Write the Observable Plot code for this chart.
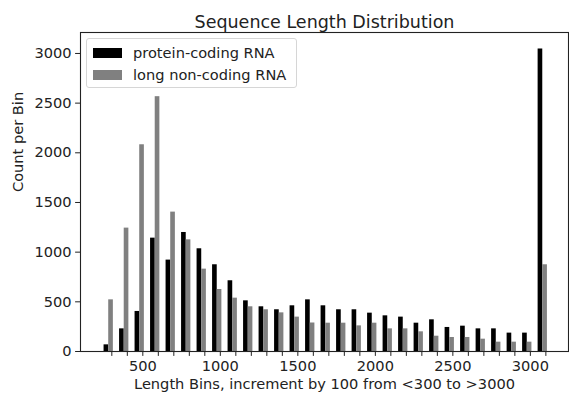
<!DOCTYPE html>
<html>
<head>
<meta charset="utf-8">
<script src="https://cdn.jsdelivr.net/npm/d3@7"></script>
<script src="https://cdn.jsdelivr.net/npm/@observablehq/plot@0.6"></script>
<style>
  html, body { margin: 0; padding: 0; background: #fff; }
  #wrap { position: relative; width: 569px; height: 396px; font-family: "DejaVu Sans", sans-serif; }
  #legend {
    position: absolute; left: 86px; top: 38px; width: 211px; height: 50px;
    border: 1px solid #d6d6d6; border-radius: 3px; background: rgba(255,255,255,0.8);
    font-size: 14.6px; color: #222; box-sizing: border-box;
  }
  .row { position: absolute; left: 6px; display: flex; align-items: center; }
  .sw { width: 29px; height: 10px; margin-right: 11px; }
</style>
</head>
<body>
<div id="wrap"></div>
<script>
const chartTitle = "Sequence Length Distribution";
const xLabel = "Length Bins, increment by 100 from <300 to >3000";
const yLabel = "Count per Bin";
const seriesNames = ["protein-coding RNA", "long non-coding RNA"];
const seriesColors = ["#000000", "#808080"];

const bins = [300, 400, 500, 600, 700, 800, 900, 1000, 1100, 1200, 1300, 1400, 1500, 1600, 1700,
              1800, 1900, 2000, 2100, 2200, 2300, 2400, 2500, 2600, 2700, 2800, 2900, 3000, 3100];
const proteinCoding = [67, 228, 403, 1141, 920, 1198, 1034, 873, 712, 510, 450, 420, 460, 520, 460,
                       420, 420, 386, 359, 346, 285, 319, 242, 255, 228, 228, 185, 185, 3045];
const longNonCoding = [520, 1242, 2081, 2565, 1403, 1124, 829, 624, 537, 450, 420, 389, 346, 287, 285,
                       285, 258, 285, 228, 228, 198, 154, 141, 141, 124, 94, 94, 94, 873];
const xTickLabels = [500, 1000, 1500, 2000, 2500, 3000];
const yTicks = [0, 500, 1000, 1500, 2000, 2500, 3000];

const pcRows = bins.map((b, i) => ({bin: b, value: proteinCoding[i]}));
const lncRows = bins.map((b, i) => ({bin: b, value: longNonCoding[i]}));

const chart = Plot.plot({
  width: 569,
  height: 396,
  marginLeft: 80,
  marginRight: 1,
  marginTop: 32,
  marginBottom: 45,
  style: {fontFamily: "DejaVu Sans, sans-serif", fontSize: "14.6px", color: "#222", background: "#fff"},
  x: {type: "linear", domain: [98, 3246]},
  y: {domain: [0, 3211]},
  marks: [
    Plot.rectY(pcRows, {x1: d => d.bin - 50, x2: d => d.bin - 20, y: "value", fill: seriesColors[0]}),
    Plot.rectY(lncRows, {x1: d => d.bin - 20, x2: d => d.bin + 10, y: "value", fill: seriesColors[1]}),
    Plot.axisX({ticks: bins, tickFormat: d => xTickLabels.includes(d) ? String(d) : "", tickSize: 4.9, tickPadding: 4, label: null, fontSize: 14.6}),
    Plot.axisY({ticks: yTicks, tickFormat: d => String(d), tickSize: 4.9, tickPadding: 4, label: null, fontSize: 14.6}),
    Plot.frame({stroke: "#222", strokeWidth: 1.1}),
    Plot.text([chartTitle], {frameAnchor: "top", dy: -17, fontSize: 17.5, fill: "#222"}),
    Plot.text([xLabel], {frameAnchor: "bottom", dy: 37, fontSize: 14.6, fill: "#222"}),
    Plot.text([yLabel], {frameAnchor: "left", dx: -62, rotate: -90, fontSize: 14.6, fill: "#222"})
  ]
});

const wrap = document.getElementById("wrap");
wrap.appendChild(chart);

const legend = document.createElement("div");
legend.id = "legend";
seriesNames.forEach((name, i) => {
  const row = document.createElement("div");
  row.className = "row";
  row.style.top = (i === 0 ? 5 : 27) + "px";
  const sw = document.createElement("div");
  sw.className = "sw";
  sw.style.background = seriesColors[i];
  const label = document.createElement("span");
  label.textContent = name;
  row.appendChild(sw);
  row.appendChild(label);
  legend.appendChild(row);
});
wrap.appendChild(legend);
</script>
</body>
</html>
